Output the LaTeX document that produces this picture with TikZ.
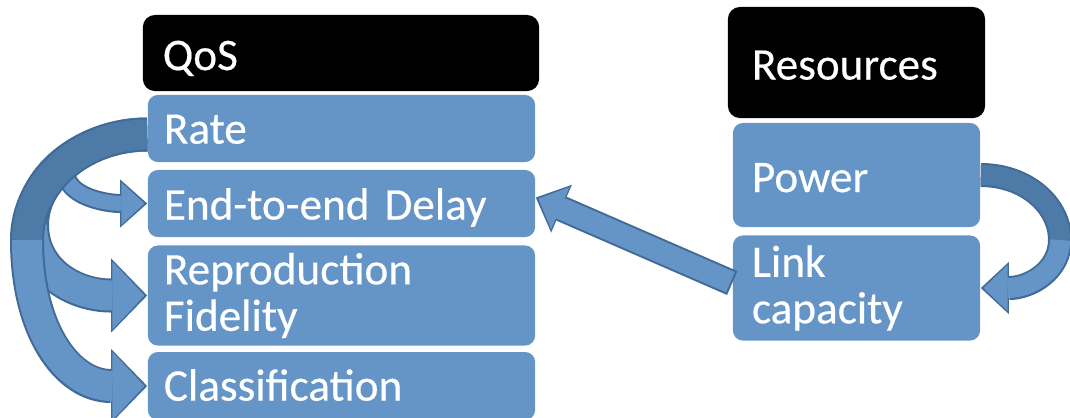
\documentclass[tikz,border=0pt]{standalone}
\usepackage{fontspec}
\setmainfont{Carlito}[FakeBold=0.4]
\usetikzlibrary{arrows.meta,calc}

\definecolor{boxblue}{RGB}{100,149,198}
\definecolor{arrowdark}{RGB}{78,122,167}
\definecolor{arrowedge}{RGB}{65,107,150}

\tikzset{
  headbox/.style={fill=black, rounded corners=0.12cm, text=white, align=left,
    inner xsep=0.2cm, inner ysep=0pt, font=\fontsize{12.85}{13.2}\selectfont},
  itembox/.style={fill=boxblue, rounded corners=0.1cm, text=white, align=left,
    inner xsep=0.16cm, inner ysep=0pt, font=\fontsize{12.85}{13.2}\selectfont},
  % single line: fixes where the text sits in its box
  oneline/.style={text height=#1, text depth=0pt},
  rim/.style={draw=arrowedge, line width=#1},
  darkband/.style={draw=arrowdark, line width=#1},
  lightband/.style={draw=boxblue, line width=#1},
  % tips: outer one for the rim, inner one for the fill
  bigrimtip/.style={-{Triangle[width=0.74cm,length=0.36cm,line width=0pt]}},
  bigtip/.style={-{Triangle[width=0.68cm,length=0.32cm,line width=0pt]}, shorten >=0.027cm},
  smallrimtip/.style={-{Triangle[width=0.48cm,length=0.27cm,line width=0pt]}},
  smalltip/.style={-{Triangle[width=0.42cm,length=0.23cm,line width=0pt]}, shorten >=0.027cm},
  midrimtip/.style={-{Triangle[width=0.52cm,length=0.28cm,line width=0pt]}},
  midtip/.style={-{Triangle[width=0.46cm,length=0.24cm,line width=0pt]}, shorten >=0.027cm},
}

\begin{document}
\begin{tikzpicture}[x=0.01cm, y=-0.01cm]
  \useasboundingbox (0,0) rectangle (1070,417);

  % QoS column
  \node[headbox, oneline=9.7pt, text width=3.56cm, minimum height=0.76cm] (qos) at (341,53) {QoS};
  \node[itembox, oneline=8.6pt, text width=3.55cm, minimum height=0.67cm] (rate) at (341.5,128.5) {Rate};
  \node[itembox, oneline=9.1pt, text width=3.55cm, minimum height=0.67cm] (e2e) at (341.5,203.5) {End-to-end Delay};
  \node[itembox, text width=3.55cm, minimum height=1.00cm] (fid) at (341.5,295.5) {Reproduction\\Fidelity};
  \node[itembox, oneline=8.3pt, text width=3.55cm, minimum height=0.68cm] (cls) at (341.5,386) {Classification};

  % Resources column
  \node[headbox, oneline=9.7pt, inner xsep=0.24cm, text width=2.09cm, minimum height=1.11cm] (res) at (856.5,62.5) {Resources};
  \node[itembox, oneline=9.7pt, inner xsep=0.19cm, text width=2.09cm, minimum height=1.04cm] (pow) at (856.5,175) {Power};
  \node[itembox, inner xsep=0.19cm, text width=2.09cm, minimum height=1.05cm] (lnk) at (856.5,288) {Link\\capacity};

  % bends of the curved arrows
  \coordinate (ratefoot) at ([yshift=-0.06cm]rate.west);
  \coordinate (e2ebend) at (66,172);
  \coordinate (fidbend) at (32,225);
  \coordinate (clsbend) at (27,240);
  \coordinate (powbend) at (1060,240);

  % Rate -> End-to-end Delay
  \draw[rim=0.19cm, smallrimtip] (ratefoot) .. controls +(-45,0) and +(0,-20) .. (e2ebend)
    .. controls +(0,25) and +(-40,0) .. (e2e.west);
  \draw[darkband=0.15cm] (ratefoot) .. controls +(-45,0) and +(0,-20) .. (e2ebend);
  \draw[lightband=0.15cm, smalltip] (e2ebend) .. controls +(0,25) and +(-40,0) .. (e2e.west);

  % Rate -> Reproduction Fidelity
  \draw[rim=0.34cm, bigrimtip] (ratefoot) .. controls +(-60,0) and +(0,-50) .. (fidbend)
    .. controls +(0,45) and +(-75,0) .. (fid.west);
  \draw[darkband=0.30cm] (ratefoot) .. controls +(-60,0) and +(0,-50) .. (fidbend);
  \draw[lightband=0.30cm, bigtip] (fidbend) .. controls +(0,45) and +(-75,0) .. (fid.west);

  % Rate -> Classification
  \draw[rim=0.34cm, bigrimtip] (ratefoot) .. controls +(-66,0) and +(0,-58) .. (clsbend)
    .. controls +(0,90) and +(-80,0) .. (cls.west);
  \draw[darkband=0.30cm] (ratefoot) .. controls +(-66,0) and +(0,-58) .. (clsbend);
  \draw[lightband=0.30cm, bigtip] (clsbend) .. controls +(0,90) and +(-80,0) .. (cls.west);

  % Power -> Link capacity
  \draw[rim=0.24cm, midrimtip] (pow.east) .. controls +(45,0) and +(0,-35) .. (powbend)
    .. controls +(0,30) and +(50,0) .. (lnk.east);
  \draw[darkband=0.20cm] (pow.east) .. controls +(45,0) and +(0,-35) .. (powbend);
  \draw[lightband=0.20cm, midtip] (powbend) .. controls +(0,30) and +(50,0) .. (lnk.east);

  % Link capacity -> End-to-end Delay
  \draw[rim=0.26cm, midrimtip] ([yshift=0.05cm]lnk.west) -- ([yshift=0.06cm]e2e.east);
  \draw[lightband=0.22cm, midtip, shorten <=0.02cm] ([yshift=0.05cm]lnk.west) -- ([yshift=0.06cm]e2e.east);
\end{tikzpicture}
\end{document}
